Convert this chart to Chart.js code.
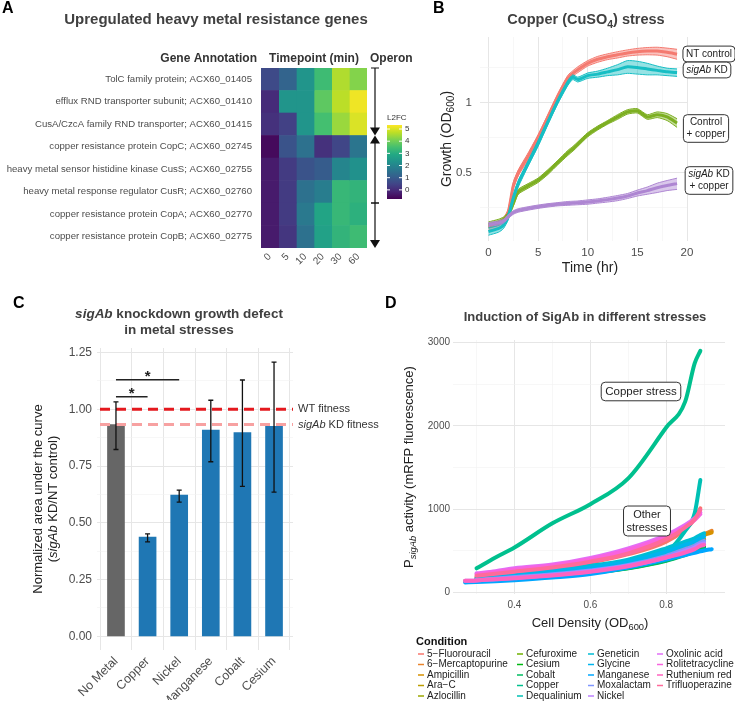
<!DOCTYPE html>
<html>
<head>
<meta charset="utf-8">
<script src="https://cdn.jsdelivr.net/npm/chart.js@4"></script>
<style>
  html, body { margin: 0; padding: 0; background: #fff; }
  #wrap { position: relative; width: 735px; height: 704px; }
  #wrap canvas { position: absolute; left: 0; top: 0; }
</style>
</head>
<body>
<div id="wrap">
  <canvas id="heat" width="735" height="704"></canvas>
  <canvas id="growth" width="735" height="704"></canvas>
  <canvas id="bars" width="735" height="704"></canvas>
  <canvas id="induction" width="735" height="704"></canvas>
</div>
<script>
// ---- panel A: heatmap data ----
const genes = [
  "TolC family protein; ACX60_01405",
  "efflux RND transporter subunit; ACX60_01410",
  "CusA/CzcA family RND transporter; ACX60_01415",
  "copper resistance protein CopC; ACX60_02745",
  "heavy metal sensor histidine kinase CusS; ACX60_02755",
  "heavy metal response regulator CusR; ACX60_02760",
  "copper resistance protein CopA; ACX60_02770",
  "copper resistance protein CopB; ACX60_02775",
];
const timepoints = ["0", "5", "10", "20", "30", "60"];
const l2fc = [
  [0.6, 1.2, 2.4, 3.4, 4.6, 4.2],
  [0.0, 2.4, 2.4, 3.8, 4.7, 5.2],
  [0.1, 0.4, 2.4, 3.5, 4.4, 5.0],
  [-0.6, 0.8, 1.5, 0.1, 0.5, 1.6],
  [-0.3, 0.3, 0.8, 1.0, 2.0, 2.3],
  [-0.3, 0.3, 1.5, 1.8, 3.3, 3.2],
  [-0.3, 0.3, 1.7, 2.8, 3.3, 3.1],
  [-0.3, 0.2, 1.5, 2.7, 3.2, 3.4],
];
const l2fcLimits = [-0.75, 5.33];
const l2fcTicks = [0, 1, 2, 3, 4, 5];
// operons as [first row, last row, direction]
const operons = [[0, 2, "down"], [3, 5, "up"], [6, 7, "down"]];

// ---- panel B: growth curves ----
const hours = [0, 1, 1.5, 2, 2.5, 3, 4, 5, 6, 7, 8, 8.5, 9, 10, 11, 12, 13, 14, 15, 16, 17, 18, 19];
const ntControl = [0.293, 0.300, 0.310, 0.340, 0.440, 0.500, 0.590, 0.710, 0.870, 1.070, 1.280, 1.340, 1.390, 1.480, 1.540, 1.580, 1.610, 1.640, 1.660, 1.670, 1.670, 1.650, 1.620];
const ntControlSpread = [0.01, 0.01, 0.01, 0.01, 0.015, 0.015, 0.02, 0.02, 0.025, 0.03, 0.035, 0.035, 0.04, 0.04, 0.045, 0.045, 0.05, 0.05, 0.055, 0.06, 0.065, 0.07, 0.08];
const sigAbKD = [0.280, 0.288, 0.298, 0.325, 0.390, 0.450, 0.550, 0.670, 0.830, 1.020, 1.220, 1.290, 1.260, 1.310, 1.330, 1.360, 1.390, 1.430, 1.420, 1.400, 1.380, 1.360, 1.350];
const sigAbKDSpread = [0.01, 0.01, 0.01, 0.01, 0.01, 0.015, 0.015, 0.02, 0.02, 0.025, 0.03, 0.03, 0.03, 0.035, 0.04, 0.05, 0.07, 0.09, 0.09, 0.08, 0.06, 0.05, 0.05];
const controlCopper = [0.300, 0.308, 0.315, 0.330, 0.370, 0.415, 0.440, 0.465, 0.505, 0.555, 0.610, 0.635, 0.665, 0.730, 0.780, 0.825, 0.870, 0.915, 0.925, 0.870, 0.890, 0.870, 0.820];
const controlCopperSpread = [0.008, 0.008, 0.008, 0.008, 0.01, 0.01, 0.01, 0.01, 0.012, 0.012, 0.015, 0.015, 0.015, 0.015, 0.015, 0.015, 0.02, 0.02, 0.02, 0.02, 0.025, 0.03, 0.035];
const kdCopper = [0.300, 0.305, 0.310, 0.325, 0.338, 0.345, 0.352, 0.358, 0.363, 0.367, 0.370, 0.371, 0.372, 0.375, 0.379, 0.384, 0.390, 0.398, 0.410, 0.420, 0.432, 0.442, 0.450];
const kdCopperSpread = [0.006, 0.006, 0.006, 0.006, 0.006, 0.006, 0.006, 0.006, 0.006, 0.006, 0.007, 0.007, 0.007, 0.008, 0.008, 0.009, 0.01, 0.01, 0.012, 0.015, 0.02, 0.022, 0.025];
const growthTicks = [0.3536, 0.5, 0.7071, 1, 1.4142];
const growthLabels = [0.5, 1];

// ---- panel C: AUC ratios ----
const metals = ["No Metal", "Copper", "Nickel", "Manganese", "Cobalt", "Cesium"];
const aucRatio = [0.933, 0.437, 0.622, 0.908, 0.898, 0.925];
const aucLow = [0.823, 0.416, 0.591, 0.769, 0.661, 0.635];
const aucHigh = [1.033, 0.451, 0.644, 1.040, 1.129, 1.208];
const wtFitness = 1.0;
const kdFitness = 0.933;
// significance brackets: [from bar, to bar, height]
const brackets = [[0, 2, 1.13], [0, 1, 1.055]];

// ---- panel D: induction ----
const conditions = ["5\u2212Fluorouracil", "6\u2212Mercaptopurine", "Ampicillin", "Ara\u2212C", "Azlocillin",
  "Cefuroxime", "Cesium", "Cobalt", "Copper", "Dequalinium",
  "Geneticin", "Glycine", "Manganese", "Moxalactam", "Nickel",
  "Oxolinic acid", "Rolitetracycline", "Ruthenium red", "Trifluoperazine"];
const odGrid = [0.27, 0.30, 0.35, 0.40, 0.50, 0.60, 0.70, 0.80, 0.85, 0.875, 0.89, 0.90, 0.92];
const rfp = [
  [null, 190, 215, 240, 290, 360, 460, 610, 760, 880, 1010, null, null],
  [null, 175, 195, 215, 255, 305, 375, 480, 570, 620, 680, 700, 740],
  [null, null, 185, 205, 245, 295, 365, 470, 560, 610, 660, 690, 720],
  [null, 160, 175, 190, 225, 270, 330, 430, 520, 560, 610, 640, null],
  [null, 150, 165, 180, 215, 255, 315, 410, 490, 530, 560, 580, null],
  [null, 145, 160, 175, 205, 245, 300, 395, 470, 510, 540, 555, null],
  [135, 140, 155, 170, 200, 240, 295, 385, 460, 500, 530, 545, null],
  [null, 140, 155, 168, 198, 235, 290, 380, 450, 490, 515, 530, null],
  [null, 290, 420, 540, 830, 1060, 1370, 1980, 2290, 2750, 2900, null, null],
  [null, 155, 170, 185, 220, 265, 330, 480, 740, 950, 1350, null, null],
  [null, 175, 200, 225, 275, 320, 395, 530, 610, 650, 690, 710, null],
  [null, null, 185, 205, 250, 300, 370, 490, 570, 610, 650, 670, null],
  [120, 125, 135, 148, 180, 222, 300, 395, 450, 475, 495, 505, 520],
  [null, 150, 168, 185, 220, 265, 330, 440, 520, 560, 600, 620, null],
  [140, 145, 160, 175, 210, 255, 320, 420, 500, 540, 575, 590, null],
  [null, 230, 255, 290, 335, 415, 530, 690, 810, 890, 960, null, null],
  [null, 220, 245, 275, 325, 400, 510, 670, 790, 870, 940, null, null],
  [140, 145, 158, 172, 205, 250, 315, 420, 480, 520, 560, 570, null],
  [null, 200, 225, 250, 300, 370, 470, 640, 780, 880, 990, null, null],
];

// ---- helpers ----
const FONT = '"Liberation Sans", Arial, Helvetica, sans-serif';
Chart.defaults.font.family = FONT;
Chart.defaults.color = "#4D4D4D";

const VIRIDIS = ["#440154", "#482475", "#414487", "#355F8D", "#2A788E", "#21918C",
  "#22A884", "#44BF70", "#7AD151", "#BDDF26", "#FDE725"];

function hexRgb(h) {
  return [1, 3, 5].map((k) => parseInt(h.slice(k, k + 2), 16));
}

function viridis(v) {
  let t = (v - l2fcLimits[0]) / (l2fcLimits[1] - l2fcLimits[0]);
  t = Math.min(1, Math.max(0, t)) * (VIRIDIS.length - 1);
  const i = Math.min(Math.floor(t), VIRIDIS.length - 2);
  const f = t - i;
  const a = hexRgb(VIRIDIS[i]), b = hexRgb(VIRIDIS[i + 1]);
  return `rgb(${a.map((c, k) => Math.round(c + (b[k] - c) * f)).join(",")})`;
}

// ggplot default hue palette (hcl, c = 100, l = 65)
function hueColor(i, n) {
  const h = 15 + (360 * i) / n;
  const c = 100, l = 65;
  const hr = (h * Math.PI) / 180;
  const U = c * Math.cos(hr), V = c * Math.sin(hr);
  const Xn = 95.047, Yn = 100, Zn = 108.883;
  const un = (4 * Xn) / (Xn + 15 * Yn + 3 * Zn);
  const vn = (9 * Yn) / (Xn + 15 * Yn + 3 * Zn);
  const Y = Yn * Math.pow((l + 16) / 116, 3);
  const u = U / (13 * l) + un, v = V / (13 * l) + vn;
  const X = (Y * 9 * u) / (4 * v);
  const Z = (Y * (12 - 3 * u - 20 * v)) / (4 * v);
  const lin = [
    3.240479 * X - 1.53715 * Y - 0.498535 * Z,
    -0.969256 * X + 1.875992 * Y + 0.041556 * Z,
    0.055648 * X - 0.204043 * Y + 1.057311 * Z,
  ].map((q) => q / 100);
  const gam = (q) => {
    q = q <= 0.0031308 ? 12.92 * q : 1.055 * Math.pow(q, 1 / 2.4) - 0.055;
    return Math.round(255 * Math.min(1, Math.max(0, q)));
  };
  return `rgb(${lin.map(gam).join(",")})`;
}

function withAlpha(rgb, a) {
  if (rgb.startsWith("#")) return `rgba(${hexRgb(rgb).join(",")},${a})`;
  return rgb.replace("rgb(", "rgba(").replace(")", `,${a})`);
}

// parts: [[text, "b i sub"], ...]
function drawRich(ctx, parts, x, y, size, align = "center", color = "#222") {
  const items = parts.map(([text, style = ""]) => {
    const st = style.split(" ");
    const sub = st.includes("sub");
    const s = sub ? size * 0.72 : size;
    const f = `${st.includes("i") ? "italic " : ""}${st.includes("b") ? "bold " : ""}${s}px ${FONT}`;
    ctx.font = f;
    return { text, f, sub, s, w: ctx.measureText(text).width };
  });
  const total = items.reduce((a, it) => a + it.w, 0);
  let cx = align === "center" ? x - total / 2 : align === "right" ? x - total : x;
  ctx.save();
  ctx.fillStyle = color;
  ctx.textAlign = "left";
  ctx.textBaseline = "middle";
  for (const it of items) {
    ctx.font = it.f;
    ctx.fillText(it.text, cx, it.sub ? y + size * 0.32 : y);
    cx += it.w;
  }
  ctx.restore();
  return total;
}

function drawRotated(ctx, parts, x, y, size, color) {
  ctx.save();
  ctx.translate(x, y);
  ctx.rotate(-Math.PI / 2);
  drawRich(ctx, parts, 0, 0, size, "center", color);
  ctx.restore();
}

function boxLabel(ctx, lines, cx, cy, size, pad = 3) {
  ctx.save();
  const lh = size * 1.18;
  const widths = lines.map((parts) => {
    let w = 0;
    for (const [t, style = ""] of parts) {
      ctx.font = `${style.includes("i") ? "italic " : ""}${size}px ${FONT}`;
      w += ctx.measureText(t).width;
    }
    return w;
  });
  const w = Math.max(...widths) + pad * 2;
  const h = lh * lines.length + pad + 1;
  ctx.beginPath();
  ctx.roundRect(cx - w / 2, cy - h / 2, w, h, 4);
  ctx.fillStyle = "#fff";
  ctx.fill();
  ctx.lineWidth = 1;
  ctx.strokeStyle = "#333";
  ctx.stroke();
  lines.forEach((parts, k) => {
    drawRich(ctx, parts, cx, cy + (k - (lines.length - 1) / 2) * lh, size, "center", "#222");
  });
  ctx.restore();
}

function panelLetter(ctx, letter, x, y) {
  ctx.save();
  ctx.font = `bold 16px ${FONT}`;
  ctx.fillStyle = "#000";
  ctx.textBaseline = "middle";
  ctx.fillText(letter, x, y);
  ctx.restore();
}

const GRID_MAJOR = "#E6E6E6";
const GRID_MINOR = "#F1F1F1";
const near = (v, list) => list.some((m) => Math.abs(m - v) < 1e-6);
const baseOpts = {
  responsive: false,
  animation: false,
  events: [],
};
const noPlugins = { legend: { display: false }, tooltip: { enabled: false } };

// ---- panel A ----
const heatDecor = {
  id: "heatDecor",
  afterDraw(chart) {
    const { ctx, chartArea, scales: { y } } = chart;
    panelLetter(ctx, "A", 2, 9);
    drawRich(ctx, [["Upregulated heavy metal resistance genes", "b"]], 216, 20, 15, "center", "#404040");
    drawRich(ctx, [["Gene Annotation", "b"]], 257, 59, 12, "right", "#333");
    drawRich(ctx, [["Timepoint (min)", "b"]], (chartArea.left + chartArea.right) / 2, 59, 12, "center", "#333");
    drawRich(ctx, [["Operon", "b"]], 370, 59, 12, "left", "#333");

    // operon arrows
    const rowH = y.getPixelForValue(1) - y.getPixelForValue(0);
    const ox = 375;
    ctx.save();
    ctx.strokeStyle = "#111";
    ctx.fillStyle = "#111";
    ctx.lineWidth = 1.2;
    for (const [a, b, dir] of operons) {
      const top = y.getPixelForValue(a) - rowH / 2;
      const bot = y.getPixelForValue(b) + rowH / 2;
      const tail = dir === "down" ? top : bot;
      const tip = dir === "down" ? bot : top;
      const s = dir === "down" ? -1 : 1;
      ctx.beginPath();
      ctx.moveTo(ox, tail);
      ctx.lineTo(ox, tip + s * 7);
      ctx.moveTo(ox - 4, tail);
      ctx.lineTo(ox + 4, tail);
      ctx.stroke();
      ctx.beginPath();
      ctx.moveTo(ox, tip);
      ctx.lineTo(ox - 5, tip + s * 8);
      ctx.lineTo(ox + 5, tip + s * 8);
      ctx.closePath();
      ctx.fill();
    }
    ctx.restore();

    // colour bar
    const bx = 387, bw = 15, btop = 125, bbot = 199;
    const vy = (v) => bbot - ((v - l2fcLimits[0]) / (l2fcLimits[1] - l2fcLimits[0])) * (bbot - btop);
    const grad = ctx.createLinearGradient(0, bbot, 0, btop);
    VIRIDIS.forEach((c, i) => grad.addColorStop(i / (VIRIDIS.length - 1), c));
    ctx.save();
    ctx.fillStyle = grad;
    ctx.fillRect(bx, btop, bw, bbot - btop);
    ctx.strokeStyle = "#fff";
    ctx.lineWidth = 1;
    ctx.font = `8px ${FONT}`;
    ctx.fillStyle = "#333";
    ctx.textBaseline = "middle";
    for (const t of l2fcTicks) {
      const py = vy(t);
      ctx.beginPath();
      ctx.moveTo(bx, py); ctx.lineTo(bx + 3, py);
      ctx.moveTo(bx + bw - 3, py); ctx.lineTo(bx + bw, py);
      ctx.stroke();
      ctx.fillText(String(t), bx + bw + 3, py);
    }
    ctx.fillText("L2FC", bx, 118);
    ctx.restore();
  },
};

new Chart(document.getElementById("heat"), {
  type: "bar",
  data: {
    labels: genes,
    datasets: timepoints.map((tp, j) => ({
      label: tp,
      data: genes.map(() => 1),
      backgroundColor: l2fc.map((row) => viridis(row[j])),
      borderWidth: 0,
      barPercentage: 1,
      categoryPercentage: 1,
    })),
  },
  options: {
    ...baseOpts,
    indexAxis: "y",
    layout: { padding: { left: 0, top: 68, right: 368, bottom: 426 } },
    scales: {
      x: {
        type: "linear",
        stacked: true,
        min: 0,
        max: 6,
        grid: { display: false, drawTicks: false },
        border: { display: false },
        afterBuildTicks: (s) => { s.ticks = timepoints.map((t, i) => ({ value: i + 0.5 })); },
        ticks: {
          callback: (v, i) => timepoints[i],
          minRotation: 45, maxRotation: 45, padding: 3,
          font: { size: 10 }, color: "#4D4D4D",
        },
        afterFit: (s) => { s.height = 30; },
      },
      y: {
        stacked: true,
        grid: { display: false, drawTicks: false },
        border: { display: false },
        ticks: { padding: 9, autoSkip: false, font: { size: 9.6 }, color: "#4D4D4D" },
        afterFit: (s) => { s.width = 261; },
      },
    },
    plugins: noPlugins,
  },
  plugins: [heatDecor],
});

// ---- panel B ----
const growthGroups = [
  [ntControl, ntControlSpread, "#F47A70"],
  [controlCopper, controlCopperSpread, "#7DAF22"],
  [sigAbKD, sigAbKDSpread, "#17BEC4"],
  [kdCopper, kdCopperSpread, "#AE86D2"],
];
const growthSets = [];
growthGroups.forEach(([mean, spread, color]) => {
  const band = (sign) => hours.map((t, k) => ({ x: t, y: mean[k] + sign * spread[k] }));
  growthSets.push({ data: band(1), borderColor: color, borderWidth: 1, pointRadius: 0, fill: false, tension: 0.2 });
  growthSets.push({ data: band(-1), borderColor: color, borderWidth: 1, pointRadius: 0, fill: "-1",
    backgroundColor: withAlpha(color, 0.45), tension: 0.2 });
  growthSets.push({ data: hours.map((t, k) => ({ x: t, y: mean[k] })), borderColor: color,
    borderWidth: 3, pointRadius: 0, fill: false, tension: 0.2 });
});
growthSets.forEach((d, i) => { d.order = -i; });

const growthDecor = {
  id: "growthDecor",
  afterDraw(chart) {
    const { ctx } = chart;
    panelLetter(ctx, "B", 433, 9);
    drawRich(ctx, [["Copper (CuSO", "b"], ["4", "b sub"], [") stress", "b"]], 586, 20, 14.5, "center", "#404040");
    drawRotated(ctx, [["Growth (OD"], ["600", "sub"], [")"]], 447, 139, 14, "#222");
    drawRich(ctx, [["Time (hr)"]], 590, 268, 14, "center", "#222");
    boxLabel(ctx, [[["NT control"]]], 709, 54, 10);
    boxLabel(ctx, [[["sigAb", "i"], [" KD"]]], 707, 70, 10);
    boxLabel(ctx, [[["Control"]], [["+ copper"]]], 706, 128.5, 10);
    boxLabel(ctx, [[["sigAb", "i"], [" KD"]], [["+ copper"]]], 709, 180.5, 10);
  },
};

new Chart(document.getElementById("growth"), {
  type: "line",
  data: { datasets: growthSets },
  options: {
    ...baseOpts,
    layout: { padding: { left: 450, top: 37, right: 48, bottom: 443 } },
    scales: {
      x: {
        type: "linear",
        min: -0.85,
        max: 20,
        border: { display: false },
        afterBuildTicks: (s) => { s.ticks = [0, 2.5, 5, 7.5, 10, 12.5, 15, 17.5, 20].map((v) => ({ value: v })); },
        grid: {
          drawTicks: false,
          color: (c) => (c.tick && c.tick.value % 5 === 0 ? GRID_MAJOR : GRID_MINOR),
          lineWidth: (c) => (c.tick && c.tick.value % 5 === 0 ? 1 : 0.6),
        },
        ticks: { callback: (v) => (v % 5 === 0 ? String(v) : ""), padding: 5, font: { size: 11.5 }, color: "#4D4D4D", maxRotation: 0 },
        afterFit: (s) => { s.height = 20; },
      },
      y: {
        type: "logarithmic",
        min: 0.255,
        max: 1.92,
        border: { display: false },
        afterBuildTicks: (s) => { s.ticks = growthTicks.map((v) => ({ value: v })); },
        grid: {
          drawTicks: false,
          color: (c) => (c.tick && near(c.tick.value, growthLabels) ? GRID_MAJOR : GRID_MINOR),
          lineWidth: (c) => (c.tick && near(c.tick.value, growthLabels) ? 1 : 0.6),
        },
        ticks: { callback: (v) => (near(v, growthLabels) ? String(v) : ""), padding: 8, font: { size: 11.5 }, color: "#4D4D4D" },
        afterFit: (s) => { s.width = 30; },
      },
    },
    plugins: noPlugins,
  },
  plugins: [growthDecor],
});

// ---- panel C ----
const barDecor = {
  id: "barDecor",
  afterDatasetsDraw(chart) {
    const { ctx, chartArea, scales: { x, y } } = chart;
    ctx.save();
    // reference lines
    ctx.lineWidth = 3;
    ctx.setLineDash([10, 6]);
    [[kdFitness, "#F7A1A1"], [wtFitness, "#E4191E"]].forEach(([v, c]) => {
      ctx.strokeStyle = c;
      ctx.beginPath();
      ctx.moveTo(chartArea.left + 3, y.getPixelForValue(v));
      ctx.lineTo(chartArea.right, y.getPixelForValue(v));
      ctx.stroke();
    });
    ctx.setLineDash([]);
    // error bars
    ctx.strokeStyle = "#111";
    ctx.lineWidth = 1.3;
    metals.forEach((m, i) => {
      const px = x.getPixelForValue(i);
      const lo = y.getPixelForValue(aucLow[i]), hi = y.getPixelForValue(aucHigh[i]);
      ctx.beginPath();
      ctx.moveTo(px, lo); ctx.lineTo(px, hi);
      ctx.moveTo(px - 2.5, lo); ctx.lineTo(px + 2.5, lo);
      ctx.moveTo(px - 2.5, hi); ctx.lineTo(px + 2.5, hi);
      ctx.stroke();
    });
    // significance brackets
    ctx.lineWidth = 1.6;
    ctx.strokeStyle = "#222";
    ctx.fillStyle = "#222";
    ctx.font = `bold 15px ${FONT}`;
    ctx.textAlign = "center";
    ctx.textBaseline = "alphabetic";
    for (const [a, b, h] of brackets) {
      const py = y.getPixelForValue(h);
      ctx.beginPath();
      ctx.moveTo(x.getPixelForValue(a), py);
      ctx.lineTo(x.getPixelForValue(b), py);
      ctx.stroke();
      ctx.fillText("*", (x.getPixelForValue(a) + x.getPixelForValue(b)) / 2, py + 1);
    }
    ctx.restore();
  },
  afterDraw(chart) {
    const { ctx, scales: { y } } = chart;
    panelLetter(ctx, "C", 13, 304);
    drawRich(ctx, [["sigAb", "b i"], [" knockdown growth defect", "b"]], 179, 314, 13.5, "center", "#404040");
    drawRich(ctx, [["in metal stresses", "b"]], 179, 330, 13.5, "center", "#404040");
    drawRich(ctx, [["WT fitness"]], 298, y.getPixelForValue(wtFitness), 11, "left", "#333");
    drawRich(ctx, [["sigAb", "i"], [" KD fitness"]], 298, y.getPixelForValue(kdFitness), 11, "left", "#333");
    drawRotated(ctx, [["Normalized area under the curve"]], 38, 499, 13, "#222");
    drawRotated(ctx, [["("], ["sigAb", "i"], [" KD/NT control)"]], 53, 499, 13, "#222");
  },
};

new Chart(document.getElementById("bars"), {
  type: "bar",
  data: {
    datasets: [{
      data: aucRatio.map((v, i) => ({ x: i, y: v })),
      backgroundColor: metals.map((m, i) => (i === 0 ? "#666666" : "#1F77B4")),
      barThickness: 17,
      borderWidth: 0,
    }],
  },
  options: {
    ...baseOpts,
    layout: { padding: { left: 57, top: 348, right: 442, bottom: 4 } },
    scales: {
      x: {
        type: "linear",
        min: -0.6,
        max: 5.6,
        offset: false,
        border: { display: false },
        afterBuildTicks: (s) => { s.ticks = metals.map((m, i) => ({ value: i })); },
        grid: { drawTicks: false, color: GRID_MAJOR, lineWidth: 1 },
        ticks: { callback: (v) => metals[v], minRotation: 45, maxRotation: 45, padding: 4, font: { size: 12.5 }, color: "#4D4D4D" },
        afterFit: (s) => { s.height = 50; },
      },
      y: {
        min: -0.06,
        max: 1.27,
        border: { display: false },
        afterBuildTicks: (s) => { s.ticks = [0, 0.125, 0.25, 0.375, 0.5, 0.625, 0.75, 0.875, 1, 1.125, 1.25].map((v) => ({ value: v })); },
        grid: {
          drawTicks: false,
          color: (c) => (c.tick && Math.abs((c.tick.value * 4) % 1) < 1e-6 ? GRID_MAJOR : GRID_MINOR),
          lineWidth: (c) => (c.tick && Math.abs((c.tick.value * 4) % 1) < 1e-6 ? 1 : 0.6),
        },
        ticks: { callback: (v) => (Math.abs((v * 4) % 1) < 1e-6 ? v.toFixed(2) : ""), padding: 5, font: { size: 12 }, color: "#4D4D4D" },
        afterFit: (s) => { s.width = 40; },
      },
    },
    plugins: noPlugins,
  },
  plugins: [barDecor],
});

// ---- panel D ----
const condColors = conditions.map((c, i) => hueColor(i, conditions.length));
const inductionSets = conditions.map((name, i) => ({
  label: name,
  data: odGrid.map((od, k) => ({ x: od, y: rfp[i][k] })).filter((p) => p.y !== null),
  borderColor: condColors[i],
  borderWidth: 4,
  pointRadius: 0,
  cubicInterpolationMode: "monotone",
  borderCapStyle: "round",
  borderJoinStyle: "round",
  fill: false,
  order: -i,
}));

const inductionDecor = {
  id: "inductionDecor",
  afterDraw(chart) {
    const { ctx } = chart;
    panelLetter(ctx, "D", 385, 304);
    drawRich(ctx, [["Induction of SigAb in different stresses", "b"]], 585, 317, 13, "center", "#404040");
    drawRotated(ctx, [["P"], ["sigAb", "i sub"], [" activity (mRFP fluorescence)"]], 409, 467, 13, "#222");
    drawRich(ctx, [["Cell Density (OD"], ["600", "sub"], [")"]], 590, 623, 13, "center", "#222");
    boxLabel(ctx, [[["Copper stress"]]], 641, 391.5, 11.5, 4);
    boxLabel(ctx, [[["Other"]], [["stresses"]]], 647, 521, 11, 3);

    // legend
    drawRich(ctx, [["Condition", "b"]], 416, 642, 11, "left", "#111");
    const keyX = [418, 517, 588, 657];
    const rowY = [654, 664.5, 675, 685.5, 696];
    ctx.save();
    conditions.forEach((name, i) => {
      const col = Math.floor(i / 5), row = i % 5;
      const kx = keyX[col], ky = rowY[row];
      ctx.strokeStyle = condColors[i];
      ctx.lineWidth = 1.5;
      ctx.beginPath();
      ctx.moveTo(kx, ky); ctx.lineTo(kx + 6, ky);
      ctx.stroke();
      drawRich(ctx, [[name]], kx + 9, ky, 10, "left", "#222");
    });
    ctx.restore();
  },
};

new Chart(document.getElementById("induction"), {
  type: "line",
  data: { datasets: inductionSets },
  options: {
    ...baseOpts,
    layout: { padding: { left: 413, top: 340, right: 10, bottom: 90 } },
    scales: {
      x: {
        type: "linear",
        min: 0.238,
        max: 0.955,
        border: { display: false },
        afterBuildTicks: (s) => { s.ticks = [0.3, 0.4, 0.5, 0.6, 0.7, 0.8, 0.9].map((v) => ({ value: v })); },
        grid: {
          drawTicks: false,
          color: (c) => (c.tick && near(c.tick.value, [0.4, 0.6, 0.8]) ? GRID_MAJOR : GRID_MINOR),
          lineWidth: (c) => (c.tick && near(c.tick.value, [0.4, 0.6, 0.8]) ? 1 : 0.6),
        },
        ticks: { callback: (v) => (near(v, [0.4, 0.6, 0.8]) ? v.toFixed(1) : ""), padding: 5, font: { size: 10 }, color: "#4D4D4D", maxRotation: 0 },
        afterFit: (s) => { s.height = 20; },
      },
      y: {
        min: -18,
        max: 3030,
        border: { display: false },
        afterBuildTicks: (s) => { s.ticks = [0, 500, 1000, 1500, 2000, 2500, 3000].map((v) => ({ value: v })); },
        grid: {
          drawTicks: false,
          color: (c) => (c.tick && c.tick.value % 1000 === 0 ? GRID_MAJOR : GRID_MINOR),
          lineWidth: (c) => (c.tick && c.tick.value % 1000 === 0 ? 1 : 0.6),
        },
        ticks: { callback: (v) => (v % 1000 === 0 ? String(v) : ""), padding: 3, font: { size: 10 }, color: "#4D4D4D" },
        afterFit: (s) => { s.width = 40; },
      },
    },
    plugins: noPlugins,
  },
  plugins: [inductionDecor],
});
</script>
</body>
</html>
